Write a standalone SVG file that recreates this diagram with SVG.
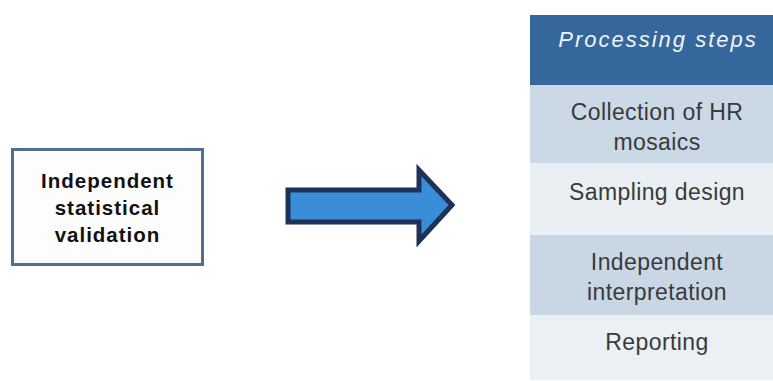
<svg xmlns="http://www.w3.org/2000/svg" width="773" height="381" viewBox="0 0 773 381">
<style>
.lbl{font-family:"Liberation Sans",Arial,sans-serif;font-size:23px;fill:#3a3a3a;text-anchor:middle;letter-spacing:0.4px}
.bold{font-family:"Liberation Sans",Arial,sans-serif;font-size:20.5px;font-weight:bold;fill:#111;text-anchor:middle;letter-spacing:1px}
.hdr{font-family:"Liberation Sans",Arial,sans-serif;font-size:22px;font-style:italic;fill:#eef4fa;text-anchor:middle;letter-spacing:2px}
</style>
<rect width="773" height="381" fill="#ffffff"/>
<g id="validation">
<rect x="12.5" y="149.5" width="190" height="115" fill="#fdfdfd" stroke="#4d6f96" stroke-width="3"/>
<text class="bold" x="107.5" y="188">Independent</text>
<text class="bold" x="107.5" y="215">statistical</text>
<text class="bold" x="107.5" y="242">validation</text>
</g>
<g id="connectors">
<polygon points="288,190 419,190 419,170 452,205 419,241 419,222 288,222" fill="#3a8ed8" stroke="#1e3157" stroke-width="5" stroke-linejoin="miter"/>
</g>
<g id="steps">
<rect x="530" y="15" width="243" height="70" fill="#35679c"/>
<rect x="530" y="85" width="243" height="78" fill="#cbd8e6"/>
<rect x="530" y="163" width="243" height="72" fill="#e9eff3"/>
<rect x="530" y="235" width="243" height="80" fill="#c9d7e5"/>
<rect x="530" y="315" width="243" height="65" fill="#eaf0f4"/>
<text class="hdr" x="658" y="47">Processing steps</text>
<text class="lbl" x="657" y="120">Collection of HR</text>
<text class="lbl" x="657" y="150">mosaics</text>
<text class="lbl" x="657" y="200">Sampling design</text>
<text class="lbl" x="657" y="270">Independent</text>
<text class="lbl" x="657" y="300">interpretation</text>
<text class="lbl" x="657" y="350">Reporting</text>
</g>
</svg>
